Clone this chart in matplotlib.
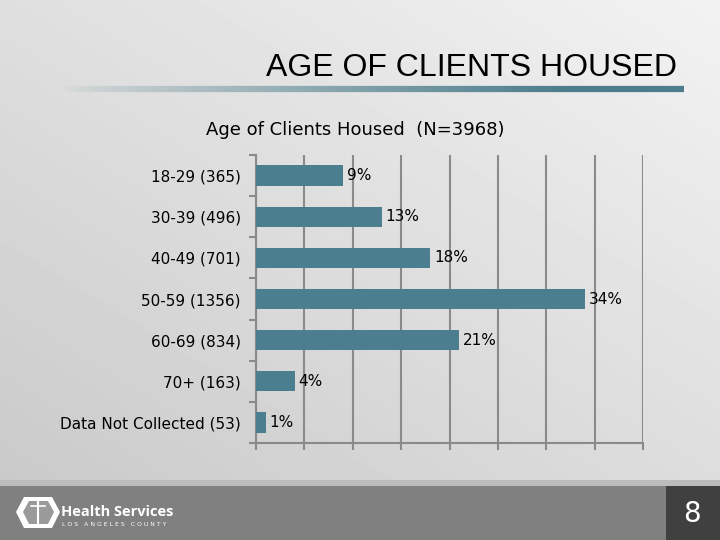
import numpy as np
import matplotlib
matplotlib.use("Agg")
import matplotlib.pyplot as plt
from matplotlib.patches import Polygon, Rectangle
from matplotlib.collections import LineCollection

# ---- data ----
categories = ["18-29 (365)", "30-39 (496)", "40-49 (701)", "50-59 (1356)",
              "60-69 (834)", "70+ (163)", "Data Not Collected (53)"]
percent = [9, 13, 18, 34, 21, 4, 1]
percent_labels = ["9%", "13%", "18%", "34%", "21%", "4%", "1%"]
slide_title = "AGE OF CLIENTS HOUSED"
chart_title = "Age of Clients Housed  (N=3968)"
page_number = "8"

W, H = 720, 540
fig = plt.figure(figsize=(W / 100, H / 100), dpi=100)

# ---- background ----
bg = fig.add_axes([0, 0, 1, 1])
bg.set_xlim(0, W)
bg.set_ylim(H, 0)
bg.axis("off")
yy, xx = np.mgrid[0:H, 0:W]
t = (xx / W) * 0.45 + (1 - yy / H) * 0.55
grad = 0.78 + 0.17 * t
bg.imshow(grad, cmap="gray", vmin=0, vmax=1, extent=[0, W, H, 0], aspect="auto", zorder=0)

# title underline with fading gradient
xs = np.linspace(60, 684, 200)
segs = [[(xs[i], 89), (xs[i + 1], 89)] for i in range(len(xs) - 1)]
alphas = np.clip((xs[:-1] - 60) / 500, 0, 1) ** 0.8
cols = [(0.30, 0.49, 0.55, a) for a in alphas]
bg.add_collection(LineCollection(segs, colors=cols, linewidths=4.5, zorder=2))

bg.text(677, 68, slide_title, ha="right", va="center", fontsize=23,
        family="Liberation Sans", color="black", zorder=3)

# footer
bg.add_patch(Rectangle((0, 480), W, 7, color="#bcbcbc", zorder=2, lw=0))
bg.add_patch(Rectangle((0, 486), W, 54, color="#808080", zorder=2, lw=0))
bg.add_patch(Rectangle((666, 486), 54, 54, color="#404040", zorder=3, lw=0))
bg.text(692, 514, page_number, ha="center", va="center", fontsize=20,
        color="white", family="DejaVu Sans", zorder=4)

# logo
hexpts = [(24, 497), (52, 497), (60, 512), (52, 528), (24, 528), (16, 512)]
bg.add_patch(Polygon(hexpts, closed=True, facecolor="white", edgecolor="none", zorder=4))
inner = [(29, 501), (48, 501), (54, 512), (48, 524), (29, 524), (23, 512)]
bg.add_patch(Polygon(inner, closed=True, facecolor="#9a9a9a", edgecolor="none", zorder=5))
bg.plot([38, 38], [502, 524], color="white", lw=1.5, zorder=6)
bg.plot([31, 45], [506, 506], color="white", lw=1.2, zorder=6)
bg.text(61, 512, "Health Services", ha="left", va="center", fontsize=10.5,
        fontweight="bold", color="white", family="Open Sans", zorder=4)
bg.text(62, 524, "L O S   A N G E L E S   C O U N T Y", ha="left", va="center",
        fontsize=4.4, color="white", family="DejaVu Sans", zorder=4)

# ---- chart ----
left, right, top, bottom = 256, 643, 155, 443
ax = fig.add_axes([left / W, 1 - bottom / H, (right - left) / W, (bottom - top) / H])
ax.patch.set_alpha(0)
y = np.arange(len(categories))
ax.barh(y, percent, height=0.49, color="#4b7f90", zorder=3)
ax.set_xlim(0, 40)
ax.set_ylim(len(categories) - 0.5, -0.5)
ax.set_xticks(np.arange(0, 41, 5))
ax.set_xticklabels([])
ax.tick_params(axis="x", length=5, width=1.5, color="#8a8a8a", direction="out")
ax.xaxis.grid(True, color="#8a8a8a", lw=1.5, zorder=1)
ax.set_yticks(y)
ax.set_yticklabels(categories, fontsize=11, family="DejaVu Sans")
ax.tick_params(axis="y", length=0, pad=11)
ax.set_yticks(np.arange(-0.5, len(categories)), minor=True)
ax.tick_params(axis="y", which="minor", length=5, width=1.5, color="#8a8a8a")
for s in ["top", "right"]:
    ax.spines[s].set_visible(False)
for s in ["left", "bottom"]:
    ax.spines[s].set_color("#8a8a8a")
    ax.spines[s].set_linewidth(1.5)
for yi, v, lab in zip(y, percent, percent_labels):
    ax.text(v + 0.4, yi, lab, ha="left", va="center", fontsize=11,
            family="DejaVu Sans", color="black", zorder=4)

fig.text(355 / W, 1 - 130 / H, chart_title, ha="center", va="center",
         fontsize=13, family="DejaVu Sans", color="black")

fig.savefig("out.png", dpi=100)
